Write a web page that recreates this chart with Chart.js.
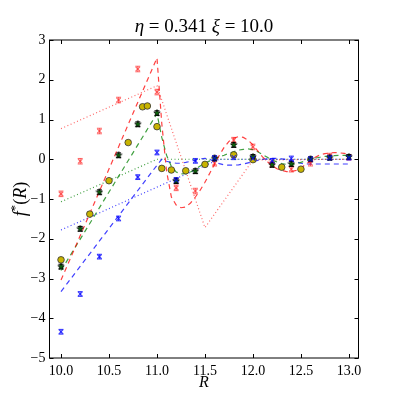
<!DOCTYPE html>
<html>
<head>
<meta charset="utf-8">
<script src="https://cdn.jsdelivr.net/npm/chart.js@4.4.1/dist/chart.umd.min.js"></script>
<style>
  html, body { margin: 0; padding: 0; background: #fff; }
  canvas { display: block; }
</style>
</head>
<body>
<canvas id="c" width="399" height="399"></canvas>
<script>
// axis ticks
const xTicks = [10.0, 10.5, 11.0, 11.5, 12.0, 12.5, 13.0];
const yTicks = [-5, -4, -3, -2, -1, 0, 1, 2, 3];

// model curves (dashed), shared R grid
const curveR = [10.0, 11.0, 11.05, 11.10, 11.15, 11.20, 11.25, 11.30, 11.35, 11.40, 11.45,
  11.50, 11.55, 11.60, 11.65, 11.70, 11.75, 11.80, 11.85, 11.90, 11.95, 12.00, 12.05,
  12.10, 12.15, 12.20, 12.25, 12.30, 12.35, 12.40, 12.45, 12.50, 12.55, 12.60, 12.65,
  12.70, 12.75, 12.80, 12.85, 12.90, 12.95, 13.00];
const redDashed = [-3.04, 2.55, 0.9, -0.3, -0.95, -1.15, -1.22, -1.2, -1.1, -0.95, -0.78,
  -0.58, -0.35, -0.12, 0.1, 0.3, 0.45, 0.53, 0.57, 0.55, 0.48, 0.36, 0.21,
  0.06, -0.06, -0.16, -0.24, -0.28, -0.31, -0.31, -0.28, -0.22, -0.13, -0.04, 0.05,
  0.11, 0.14, 0.16, 0.17, 0.16, 0.15, 0.13];
const greenDashed = [-2.8, 1.15, 0.55, 0.1, -0.18, -0.32, -0.37, -0.36, -0.32, -0.25, -0.17,
  -0.1, -0.04, 0.02, 0.06, 0.1, 0.15, 0.19, 0.23, 0.25, 0.26, 0.24, 0.19,
  0.12, 0.05, -0.02, -0.07, -0.11, -0.13, -0.14, -0.12, -0.08, -0.04, 0.0, 0.03,
  0.05, 0.07, 0.08, 0.09, 0.1, 0.1, 0.1];
const blueDashed = [-3.33, -0.15, 0.0, -0.05, -0.08, -0.1, -0.1, -0.08, -0.05, -0.02, 0.01,
  0.02, 0.0, -0.06, -0.11, -0.14, -0.15, -0.15, -0.14, -0.12, -0.09, -0.06, -0.03,
  0.0, 0.01, 0.02, 0.02, 0.01, -0.01, -0.04, -0.07, -0.1, -0.12, -0.12, -0.12,
  -0.12, -0.12, -0.12, -0.12, -0.12, -0.12, -0.12];

// simple models (dotted)
const redDotR = [10.0, 11.0, 11.5, 12.0, 13.0];
const redDotted = [0.77, 1.85, -1.72, -0.02, 0.0];
const greenDotR = [10.0, 11.0, 13.0];
const greenDotted = [-1.07, 0.0, 0.0];
const blueDotR = [10.0, 11.65, 13.0];
const blueDotted = [-1.78, 0.0, 0.0];

// measured points
const dataR = [10.0, 10.2, 10.4, 10.6, 10.8, 11.0, 11.2, 11.4, 11.6, 11.8, 12.0, 12.2, 12.4, 12.6, 12.8, 13.0];
const redPts = [-0.87, -0.05, 0.71, 1.49, 2.27, 1.69, -0.72, -0.80, -0.1, 0.48, 0.31, -0.12, -0.25, -0.1, 0.08, 0.05];
const redErr = [0.07, 0.07, 0.07, 0.07, 0.07, 0.07, 0.07, 0.07, 0.07, 0.07, 0.07, 0.07, 0.07, 0.07, 0.07, 0.07];
const starPts = [-2.70, -1.75, -0.83, 0.10, 0.88, 1.16, -0.55, -0.30, 0.02, 0.36, 0.06, -0.14, -0.12, 0.0, 0.04, 0.06];
const starErr = [0.06, 0.06, 0.06, 0.06, 0.06, 0.06, 0.06, 0.06, 0.06, 0.06, 0.06, 0.06, 0.06, 0.06, 0.06, 0.06];
const bluePts = [-4.34, -3.39, -2.45, -1.49, -0.45, 0.17, -0.52, -0.04, 0.03, 0.05, 0.02, -0.04, 0.02, 0.0, 0.04, 0.04];
const blueErr = [0.06, 0.06, 0.06, 0.06, 0.06, 0.06, 0.06, 0.06, 0.06, 0.06, 0.06, 0.06, 0.06, 0.06, 0.06, 0.06];
const yellowR = [10.0, 10.3, 10.5, 10.7, 10.85, 10.9, 11.0, 11.05, 11.15, 11.3, 11.5, 11.8, 12.0, 12.3, 12.5];
const yellowPts = [-2.53, -1.38, -0.54, 0.42, 1.32, 1.34, 0.82, -0.23, -0.27, -0.29, -0.13, 0.11, -0.01, -0.2, -0.25];

const SERIF = '"Liberation Serif", "DejaVu Serif", serif';
const RED = 'rgba(255,0,0,0.75)';
const GREEN = 'rgba(0,128,0,0.75)';
const BLUE = 'rgba(0,0,255,0.75)';

const pts = (xs, ys) => xs.map((x, i) => ({ x, y: ys[i] }));

function starImage(size, fill, stroke) {
  const c = document.createElement('canvas');
  c.width = c.height = size;
  const g = c.getContext('2d');
  const r = size / 2 - 0.6, ri = r * 0.45;
  g.beginPath();
  for (let i = 0; i < 10; i++) {
    const a = -Math.PI / 2 + i * Math.PI / 5;
    const rr = i % 2 ? ri : r;
    g.lineTo(size / 2 + rr * Math.cos(a), size / 2 + rr * Math.sin(a));
  }
  g.closePath();
  g.fillStyle = fill;
  g.fill();
  g.lineWidth = 0.8;
  g.strokeStyle = stroke;
  g.stroke();
  return c;
}

function line(xs, ys, color, dash) {
  return {
    data: pts(xs, ys), showLine: true, borderColor: color, borderWidth: 1.2,
    borderDash: dash, pointRadius: 0, fill: false, order: 10,
  };
}

// draw text made of pieces (italic / superscript), centred on (x, y)
function drawPieces(ctx, pieces, x, y, size) {
  const fontOf = (p) => `${p.i ? 'italic ' : ''}${p.sup ? size * 0.7 : size}px ${SERIF}`;
  let w = 0;
  pieces.forEach((p) => { ctx.font = fontOf(p); w += ctx.measureText(p.t).width; });
  let cx = x - w / 2;
  ctx.textBaseline = 'middle';
  ctx.textAlign = 'left';
  pieces.forEach((p) => {
    ctx.font = fontOf(p);
    ctx.fillText(p.t, cx, p.sup ? y - size * 0.3 : y);
    cx += ctx.measureText(p.t).width;
  });
}

const decor = {
  id: 'decor',
  beforeDatasetsDraw(chart) {
    const { ctx } = chart;
    const xs = chart.scales.x, ys = chart.scales.y;
    chart.data.datasets.forEach((ds) => {
      if (!ds.errors) return;
      ctx.save();
      ctx.strokeStyle = ds.borderColor;
      ctx.lineWidth = 1;
      ds.data.forEach((p, i) => {
        const px = xs.getPixelForValue(p.x);
        const y1 = ys.getPixelForValue(p.y - ds.errors[i]);
        const y2 = ys.getPixelForValue(p.y + ds.errors[i]);
        ctx.beginPath();
        ctx.moveTo(px, y1); ctx.lineTo(px, y2);
        ctx.moveTo(px - 2.5, y1); ctx.lineTo(px + 2.5, y1);
        ctx.moveTo(px - 2.5, y2); ctx.lineTo(px + 2.5, y2);
        ctx.stroke();
      });
      ctx.restore();
    });
  },
  afterDraw(chart) {
    const { ctx, chartArea: a } = chart;
    const xs = chart.scales.x, ys = chart.scales.y;
    ctx.save();
    ctx.strokeStyle = '#000';
    ctx.lineWidth = 1;
    ctx.strokeRect(a.left, a.top, a.right - a.left, a.bottom - a.top);
    ctx.beginPath();
    xTicks.forEach((v) => {
      const px = Math.round(xs.getPixelForValue(v)) + 0.5;
      ctx.moveTo(px, a.bottom); ctx.lineTo(px, a.bottom - 4);
      ctx.moveTo(px, a.top); ctx.lineTo(px, a.top + 4);
    });
    yTicks.forEach((v) => {
      const py = Math.round(ys.getPixelForValue(v)) + 0.5;
      ctx.moveTo(a.left, py); ctx.lineTo(a.left + 4, py);
      ctx.moveTo(a.right, py); ctx.lineTo(a.right - 4, py);
    });
    ctx.stroke();

    ctx.fillStyle = '#000';
    const cx = (a.left + a.right) / 2;
    drawPieces(ctx, [
      { t: 'η', i: true }, { t: ' = 0.341 ' }, { t: 'ξ', i: true }, { t: ' = 10.0' },
    ], cx, 27, 19);
    drawPieces(ctx, [{ t: 'R', i: true }], cx, 383, 16);
    ctx.translate(21, (a.top + a.bottom) / 2);
    ctx.rotate(-Math.PI / 2);
    drawPieces(ctx, [
      { t: 'f', i: true }, { t: '*', sup: true }, { t: '(' }, { t: 'R', i: true }, { t: ')' },
    ], 0, 0, 18);
    ctx.restore();
  },
};

const fmtY = (v) => (v < 0 ? '\u2212' + (-v) : String(v));

new Chart(document.getElementById('c'), {
  type: 'scatter',
  data: {
    datasets: [
      line(curveR, redDashed, RED, [5, 4]),
      line(curveR, greenDashed, GREEN, [5, 4]),
      line(curveR, blueDashed, BLUE, [5, 4]),
      line(redDotR, redDotted, 'rgba(255,0,0,0.6)', [1, 2.5]),
      line(greenDotR, greenDotted, GREEN, [1, 2.5]),
      line(blueDotR, blueDotted, BLUE, [1, 2.5]),
      {
        data: pts(dataR, redPts), errors: redErr, pointStyle: 'crossRot', pointRadius: 3,
        borderColor: 'rgba(255,40,40,0.7)', borderWidth: 1.2, order: 4,
      },
      {
        data: pts(yellowR, yellowPts), pointStyle: 'circle', pointRadius: 3.3,
        backgroundColor: '#c8b400', borderColor: '#333', borderWidth: 0.8, order: 3,
      },
      {
        data: pts(dataR, starPts), errors: starErr, pointStyle: starImage(8, '#0b6b0b', '#000'),
        borderColor: '#000', borderWidth: 1, order: 2,
      },
      {
        data: pts(dataR, bluePts), errors: blueErr, pointStyle: 'crossRot', pointRadius: 3,
        borderColor: BLUE, borderWidth: 1.2, order: 1,
      },
    ],
  },
  options: {
    responsive: false,
    devicePixelRatio: 1,
    animation: false,
    events: [],
    layout: { padding: { left: 0, top: 40, right: 40.5, bottom: 0 } },
    plugins: { legend: { display: false }, tooltip: { enabled: false } },
    scales: {
      x: {
        type: 'linear', min: 9.88, max: 13.1,
        afterBuildTicks: (s) => { s.ticks = xTicks.map((v) => ({ value: v })); },
        afterFit: (s) => { s.height = 41; },
        grid: { display: false, drawTicks: false },
        border: { display: false },
        ticks: {
          padding: 5, color: '#000', font: { family: SERIF, size: 14 },
          callback: (v) => Number(v).toFixed(1), maxRotation: 0, autoSkip: false,
        },
      },
      y: {
        type: 'linear', min: -5, max: 3,
        afterBuildTicks: (s) => { s.ticks = yTicks.map((v) => ({ value: v })); },
        afterFit: (s) => { s.width = 49.5; },
        grid: { display: false, drawTicks: false },
        border: { display: false },
        ticks: {
          padding: 4, color: '#000', font: { family: SERIF, size: 14 },
          callback: fmtY, autoSkip: false,
        },
      },
    },
  },
  plugins: [decor],
});
</script>
</body>
</html>
